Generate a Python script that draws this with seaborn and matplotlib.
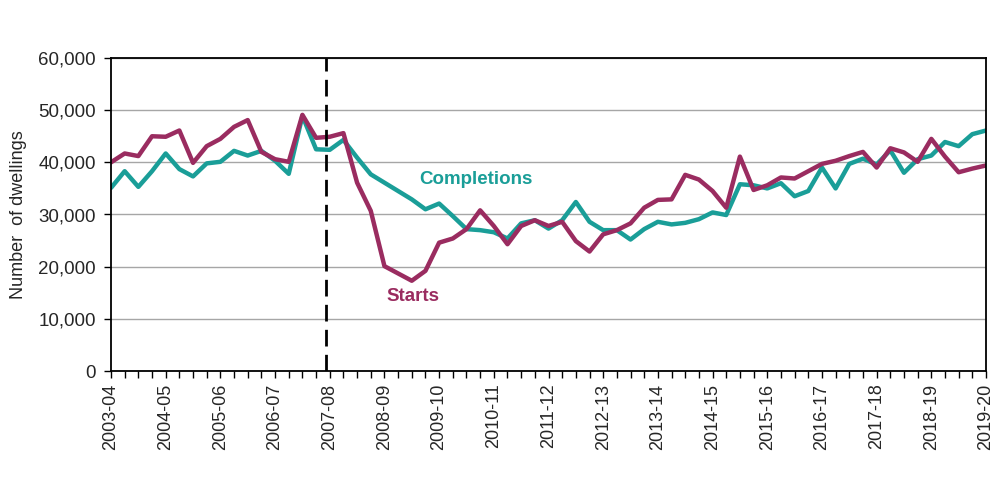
import matplotlib
matplotlib.use("Agg")
import matplotlib.pyplot as plt
import matplotlib.ticker as mticker
import numpy as np
import pandas as pd
import seaborn as sns

# quarterly values, 2003-04 Q1 to 2019-20 Q1
starts = [
    40000, 41700, 41200, 45000, 44900, 46100, 39900, 43100, 44500, 46800,
    48100, 42000, 40600, 40100, 49100, 44700, 44900, 45600, 36100, 30700,
    20100, 18700, 17300, 19200, 24600, 25400, 27200, 30800, 27800, 24300,
    27800, 28900, 27800, 28600, 24900, 22900, 26200, 27000, 28300, 31300,
    32800, 32900, 37600, 36700, 34500, 31300, 41100, 34700, 35600, 37100,
    36900, 38300, 39700, 40300, 41200, 42000, 39000, 42700, 41900, 40100,
    44500, 41100, 38100, 38800, 39400,
]
completions = [
    35100, 38300, 35300, 38300, 41700, 38700, 37300, 39800, 40100, 42200,
    41300, 42200, 40300, 37800, 48900, 42500, 42400, 44300, 40900, 37700,
    36100, 34500, 32900, 31000, 32100, 29700, 27200, 27000, 26600, 25400,
    28300, 28900, 27300, 28900, 32400, 28600, 27000, 27000, 25200, 27200,
    28600, 28100, 28400, 29100, 30400, 29900, 35800, 35600, 35000, 36000,
    33500, 34500, 39000, 35000, 39700, 40700, 39600, 42300, 38000, 40600,
    41300, 43900, 43100, 45400, 46100,
]
year_labels = [f"{y}-{str(y + 1)[-2:]}" for y in range(2003, 2020)]

n = len(starts)
df = pd.DataFrame({
    "q": list(range(n)) * 2,
    "value": starts + completions,
    "series": ["Starts"] * n + ["Completions"] * n,
})

sns.set_style("white")
plt.rcParams["font.family"] = ["Liberation Sans", "DejaVu Sans"]

purple = "#9a2c60"
teal = "#1a9e98"

fig = plt.figure(figsize=(10, 5), dpi=100)
ax = fig.add_axes([0.111, 0.258, 0.875, 0.626])

sns.lineplot(data=df, x="q", y="value", hue="series",
             palette={"Starts": purple, "Completions": teal},
             hue_order=["Completions", "Starts"],
             linewidth=3.2, legend=False, ax=ax)

ax.set_xlim(0, n - 1)
ax.set_ylim(0, 60000)
ax.yaxis.set_major_locator(mticker.MultipleLocator(10000))
ax.yaxis.set_major_formatter(mticker.StrMethodFormatter("{x:,.0f}"))
ax.grid(axis="y", color="#a6a6a6", linewidth=1)
ax.set_axisbelow(True)

ax.set_xticks(range(0, n, 4))
ax.set_xticklabels(year_labels, rotation=90)
ax.set_xticks(range(n), minor=True)
ax.tick_params(axis="x", which="both", direction="out", length=5, width=1,
               color="black", bottom=True, labelsize=13, pad=4)
ax.tick_params(axis="y", direction="out", length=5, width=1, color="black",
               left=True, labelsize=13.5, pad=6)

for s in ax.spines.values():
    s.set_color("black")
    s.set_linewidth(1.3)

ax.set_xlabel("")
ax.set_ylabel("Number  of dwellings", fontsize=13, labelpad=8)

# start of the downturn
ax.axvline(15.7, color="black", linewidth=2, linestyle=(0, (6, 3)))

ax.text(26.7, 36800, "Completions", color=teal, fontsize=13.5, fontweight="bold",
        ha="center", va="center")
ax.text(22.1, 14200, "Starts", color=purple, fontsize=13.5, fontweight="bold",
        ha="center", va="center")

fig.savefig("out.png", dpi=100)
